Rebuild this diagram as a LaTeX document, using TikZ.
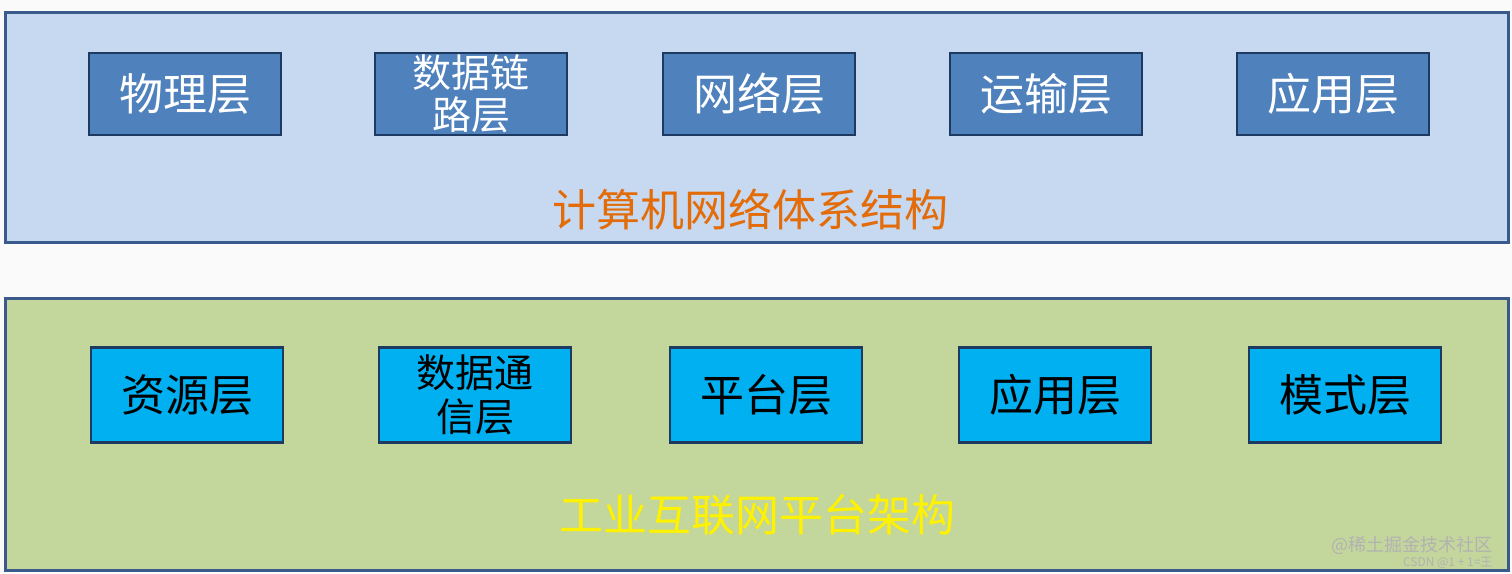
\documentclass[tikz,border=0pt]{standalone}
\usepackage{fontspec}
\newfontfamily\cjk{Noto Sans CJK SC}
\definecolor{panelA}{HTML}{C6D9F1}
\definecolor{panelB}{HTML}{C3D69B}
\definecolor{edgeC}{HTML}{3A5A8C}
\definecolor{boxA}{HTML}{4F81BD}
\definecolor{boxB}{HTML}{00B0F0}
\definecolor{boxEdge}{HTML}{1F3A60}
\definecolor{titleA}{HTML}{E36C09}
\begin{document}
\begin{tikzpicture}[x=1pt,y=-1pt,
  panel/.style={draw=edgeC,line width=3pt},
  layerA/.style={draw=boxEdge,line width=2.5pt,fill=boxA,text=white,minimum width=192pt,minimum height=82pt,font=\cjk\fontsize{44}{46}\selectfont,align=center,inner sep=0pt},
  layerB/.style={layerA,fill=boxB,text=black,minimum height=95pt},
  ttl/.style={font=\cjk\fontsize{44}{46}\selectfont}]
\useasboundingbox (0,0) rectangle (1512,573);
\fill[white!96!gray] (0,0) rectangle (1512,573);
\draw[panel,fill=panelA] (5,12) rectangle (1508,242);
\draw[panel,fill=panelB] (5,298) rectangle (1508,570);
\node[layerA] (a1) at (185,94) {物理层};
\node[layerA] (a2) at (471,94) {\fontsize{39}{42}\selectfont 数据链\\[-4pt]\fontsize{39}{42}\selectfont 路层};
\node[layerA] (a3) at (759,94) {网络层};
\node[layerA] (a4) at (1046,94) {运输层};
\node[layerA] (a5) at (1333,94) {应用层};
\node[ttl,text=titleA] (t1) at (750,210) {计算机网络体系结构};
\node[layerB] (b1) at (187,395) {资源层};
\node[layerB] (b2) at (475,395) {\fontsize{39}{42}\selectfont 数据通\\[-2pt]\fontsize{39}{42}\selectfont 信层};
\node[layerB] (b3) at (766,395) {平台层};
\node[layerB] (b4) at (1055,395) {应用层};
\node[layerB] (b5) at (1345,395) {模式层};
\node[ttl,text=yellow] (t2) at (757,515) {工业互联网平台架构};
\node[font=\cjk\fontsize{18}{20}\selectfont,text=gray!60,anchor=east] (w1) at (1496,545) {@稀土掘金技术社区};
\node[font=\cjk\fontsize{12}{14}\selectfont,text=gray!60,anchor=east] (w2) at (1496,563) {CSDN @1 + 1=王};
\end{tikzpicture}
\end{document}
